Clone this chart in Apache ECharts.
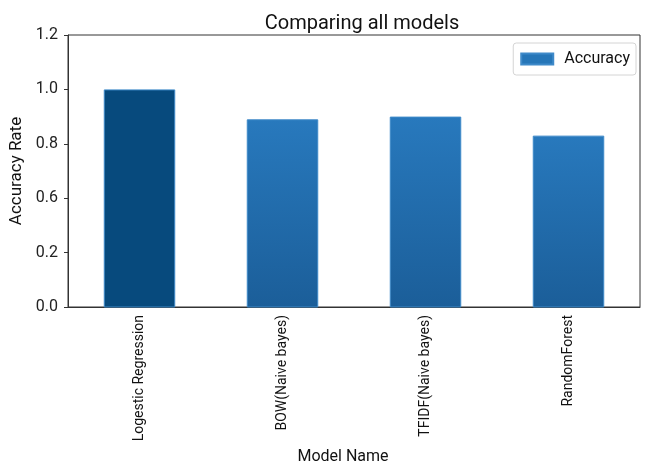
<!DOCTYPE html>
<html>
<head>
<meta charset="utf-8">
<script src="https://cdn.jsdelivr.net/npm/echarts@6/dist/echarts.min.js"></script>
<style>
  html, body { margin: 0; padding: 0; background: #fff; }
  #chart { width: 649px; height: 466px; }
</style>
</head>
<body>
<div id="chart"></div>
<script>
const categories = ["Logestic Regression", "BOW(Naive bayes)", "TFIDF(Naive bayes)", "RandomForest"];
const accuracy = [1.0, 0.89, 0.90, 0.83];
// tick labels as printed on the reference (its lowest two labels are shifted)
const yTickLabels = ["0.0", "0.2", "0.6", "0.8", "1.0", "1.2"];
const highlightIndex = 0;

const chart = echarts.init(document.getElementById("chart"));
const fontFamily = "Roboto, 'DejaVu Sans', sans-serif";
const barGradient = new echarts.graphic.LinearGradient(0, 0, 0, 1, [
    { offset: 0, color: "#2879bd" },
    { offset: 1, color: "#1b5e99" },
]);

const option = {
    animation: false,
    textStyle: { fontFamily: fontFamily },
    title: {
        text: "Comparing all models",
        left: 357,
        top: 9,
        textAlign: "center",
        textStyle: { fontSize: 20, fontWeight: "normal", color: "#111", fontFamily: fontFamily },
    },
    legend: {
        right: 13,
        top: 43,
        itemWidth: 32,
        itemHeight: 11,
        itemGap: 10,
        padding: [8, 6, 8, 7],
        borderColor: "#d4d4d4",
        borderWidth: 1,
        borderRadius: 3,
        textStyle: { fontSize: 16, color: "#111", fontFamily: fontFamily, padding: [0, 0, 0, 6] },
        data: [{ name: "Accuracy", icon: "rect", itemStyle: { color: "#2676b8" } }],
    },
    grid: {
        left: 68,
        right: 9,
        top: 35,
        bottom: 159,
        outerBoundsMode: "none",
        containLabel: false,
        show: true,
        borderColor: "#333",
        borderWidth: 1,
    },
    xAxis: {
        type: "category",
        data: categories,
        name: "Model Name",
        nameLocation: "middle",
        nameGap: 141,
        nameTextStyle: { fontSize: 16, color: "#111", padding: [0, 22, 0, 0] },
        axisLine: { lineStyle: { color: "#333" } },
        axisTick: { alignWithLabel: true, length: 4, lineStyle: { color: "#333" } },
        axisLabel: { rotate: 90, fontSize: 14, color: "#111", margin: 8 },
    },
    yAxis: {
        type: "value",
        min: 0.2,
        max: 1.2,
        interval: 0.2,
        name: "Accuracy Rate",
        nameLocation: "middle",
        nameGap: 35,
        nameTextStyle: { fontSize: 17, color: "#111" },
        axisLine: { show: true, lineStyle: { color: "#333" } },
        axisTick: { show: true, length: 4, lineStyle: { color: "#333" } },
        splitLine: { show: false },
        axisLabel: {
            fontSize: 16,
            color: "#222",
            margin: 10,
            formatter: function (value, index) {
                return yTickLabels[index];
            },
        },
    },
    series: [
        {
            name: "Accuracy",
            type: "bar",
            data: accuracy,
            barWidth: "50%",
            clip: true,
            itemStyle: {
                color: function (params) {
                    return params.dataIndex === highlightIndex ? "#074a7d" : barGradient;
                },
                borderColor: "#3f8ac9",
                borderWidth: 1,
            },
        },
    ],
};
chart.setOption(option);
</script>
</body>
</html>
